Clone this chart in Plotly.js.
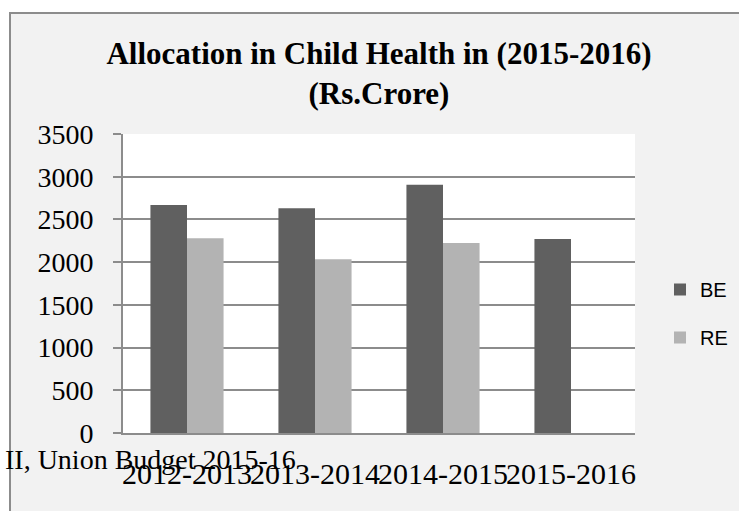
<!DOCTYPE html>
<html>
<head>
<meta charset="utf-8">
<script src="https://cdn.plot.ly/plotly-3.0.1.min.js"></script>
<style>
  html, body { margin: 0; padding: 0; background: #ffffff; }
  #frame { position: absolute; left: 9px; top: 12px; width: 760px; height: 520px;
           border-left: 2px solid #8c8c8c; border-top: 2px solid #8c8c8c; background: #f2f2f2; }
  #chart { position: absolute; left: 0; top: 0; width: 739px; height: 511px; }
</style>
</head>
<body>
<div id="frame"></div>
<div id="chart"></div>
<script>
const categories = ["2012-2013", "2013-2014", "2014-2015", "2015-2016"];
const beValues = [2670, 2630, 2905, 2270];
const reValues = [2280, 2035, 2225, null];
const seriesNames = ["BE", "RE"];
const yTicks = [0, 500, 1000, 1500, 2000, 2500, 3000, 3500];
const titleText = "Allocation in Child Health in (2015-2016)<br>(Rs.Crore)";
const sourceText = "II, Union Budget 2015-16";

const serif = "Liberation Serif, Times New Roman, serif";
const sans = "Liberation Sans, Arial, sans-serif";

const traces = [
  { type: "bar", name: seriesNames[0], x: categories, y: beValues,
    marker: { color: "#606060" }, legendgroup: "a" },
  { type: "bar", name: seriesNames[1], x: categories, y: reValues,
    marker: { color: "#b3b3b3" }, legendgroup: "b" }
];

const layout = {
  width: 739, height: 511,
  paper_bgcolor: "rgba(0,0,0,0)",
  plot_bgcolor: "#ffffff",
  margin: { l: 123, r: 104, t: 134, b: 78, pad: 0, autoexpand: false },
  barmode: "group",
  bargap: 0.4286,
  bargroupgap: 0,
  title: {
    text: titleText,
    font: { family: serif, size: 31, color: "#000000", weight: "bold" },
    x: 0.5, xref: "paper", xanchor: "center",
    y: 1 - 64 / 511, yref: "container", yanchor: "top"
  },
  xaxis: {
    type: "category",
    showline: true, linecolor: "#8c8c8c", linewidth: 2,
    ticks: "", showgrid: false,
    tickangle: 0, automargin: false,
    tickfont: { family: serif, size: 30, color: "#000000" },
    ticklabelstandoff: 13
  },
  yaxis: {
    range: [0, 3500],
    tickvals: yTicks,
    automargin: false,
    showline: true, linecolor: "#8c8c8c", linewidth: 2,
    ticks: "outside", ticklen: 8, tickwidth: 2, tickcolor: "#8c8c8c",
    showgrid: true, gridcolor: "#8c8c8c", gridwidth: 2,
    zeroline: false,
    tickfont: { family: serif, size: 28, color: "#000000" },
    ticklabelstandoff: 14
  },
  legend: {
    x: (660 - 123) / 512, xanchor: "left",
    y: (433 - 270) / 299, yanchor: "top",
    bgcolor: "rgba(0,0,0,0)",
    font: { family: sans, size: 20, color: "#000000" },
    traceorder: "grouped",
    tracegroupgap: 19
  },
  annotations: [{
    text: sourceText, showarrow: false,
    xref: "paper", yref: "paper",
    x: (3 - 123) / 512, xanchor: "left",
    y: -(459 - 433) / 299, yanchor: "middle",
    font: { family: serif, size: 28, color: "#000000" }
  }]
};

Plotly.newPlot("chart", traces, layout, { displayModeBar: false, staticPlot: true });
</script>
</body>
</html>
